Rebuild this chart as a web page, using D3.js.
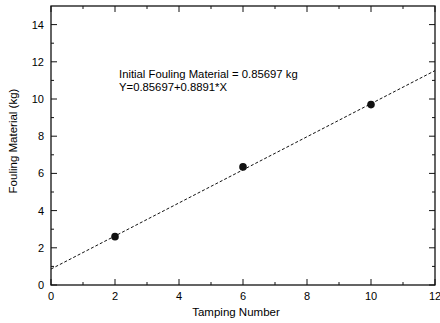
<!DOCTYPE html>
<html>
<head>
<meta charset="utf-8">
<script src="https://cdn.jsdelivr.net/npm/d3@7"></script>
<style>
  body { margin: 0; background: #fff; }
  text { font-family: "Liberation Sans", Arial, sans-serif; fill: #000; }
</style>
</head>
<body>
<div id="chart"></div>
<script>
// measured points
const tampNum = [2, 6, 10];
const fouling = [2.6, 6.35, 9.7];
// fitted line Y = a + b*X
const fitA = 0.85697, fitB = 0.8891;
const xTicks = [0, 2, 4, 6, 8, 10, 12];
const yTicks = [0, 2, 4, 6, 8, 10, 12, 14];

const width = 440, height = 323;
const x = d3.scaleLinear().domain([0, 12]).range([51, 435]);
const y = d3.scaleLinear().domain([0, 15]).range([285, 6]);

const svg = d3.select("#chart").append("svg")
  .attr("width", width).attr("height", height);

// frame
svg.append("rect")
  .attr("x", x(0)).attr("y", y(15))
  .attr("width", x(12) - x(0)).attr("height", y(0) - y(15))
  .style("fill", "none").style("stroke", "#111").style("stroke-width", 1.3);

const minorX = d3.range(1, 12, 2), minorY = d3.range(1, 15, 2);

// inward ticks on all four sides
function ticks(vals, len) {
  vals.forEach(v => {
    svg.append("line").attr("x1", x(v)).attr("x2", x(v))
      .attr("y1", y(0)).attr("y2", y(0) - len).style("stroke", "#111");
    svg.append("line").attr("x1", x(v)).attr("x2", x(v))
      .attr("y1", y(15)).attr("y2", y(15) + len).style("stroke", "#111");
  });
}
ticks(xTicks, 6); ticks(minorX, 3);
function yt(vals, len) {
  vals.forEach(v => {
    svg.append("line").attr("y1", y(v)).attr("y2", y(v))
      .attr("x1", x(0)).attr("x2", x(0) + len).style("stroke", "#111");
    svg.append("line").attr("y1", y(v)).attr("y2", y(v))
      .attr("x1", x(12)).attr("x2", x(12) - len).style("stroke", "#111");
  });
}
yt(yTicks, 6); yt(minorY, 3);

// tick labels
svg.selectAll(".xl").data(xTicks).enter().append("text")
  .attr("x", d => x(d)).attr("y", y(0) + 14.5)
  .attr("text-anchor", "middle").style("font-size", "11px").text(d => d);
svg.selectAll(".yl").data(yTicks).enter().append("text")
  .attr("x", x(0) - 7).attr("y", d => y(d) + 4)
  .attr("text-anchor", "end").style("font-size", "11px").text(d => d);

// axis titles
svg.append("text").attr("x", 236).attr("y", 316)
  .attr("text-anchor", "middle").style("font-size", "11.5px").text("Tamping Number");
svg.append("text").attr("transform", "translate(17,141) rotate(-90)")
  .attr("text-anchor", "middle").style("font-size", "11.5px").text("Fouling Material (kg)");

// fit line
svg.append("line")
  .attr("x1", x(0)).attr("y1", y(fitA))
  .attr("x2", x(12)).attr("y2", y(fitA + fitB * 12))
  .style("stroke", "#111").style("stroke-width", 1).style("stroke-dasharray", "3,2");

// points
svg.selectAll("circle").data(tampNum).enter().append("circle")
  .attr("cx", d => x(d)).attr("cy", (d, i) => y(fouling[i]))
  .attr("r", 3.8).style("fill", "#111");

// annotation
svg.append("text").attr("x", 119).attr("y", 78).style("font-size", "11.3px")
  .text("Initial Fouling Material = 0.85697 kg");
svg.append("text").attr("x", 119).attr("y", 91).style("font-size", "11.3px")
  .text("Y=0.85697+0.8891*X");
</script>
</body>
</html>
